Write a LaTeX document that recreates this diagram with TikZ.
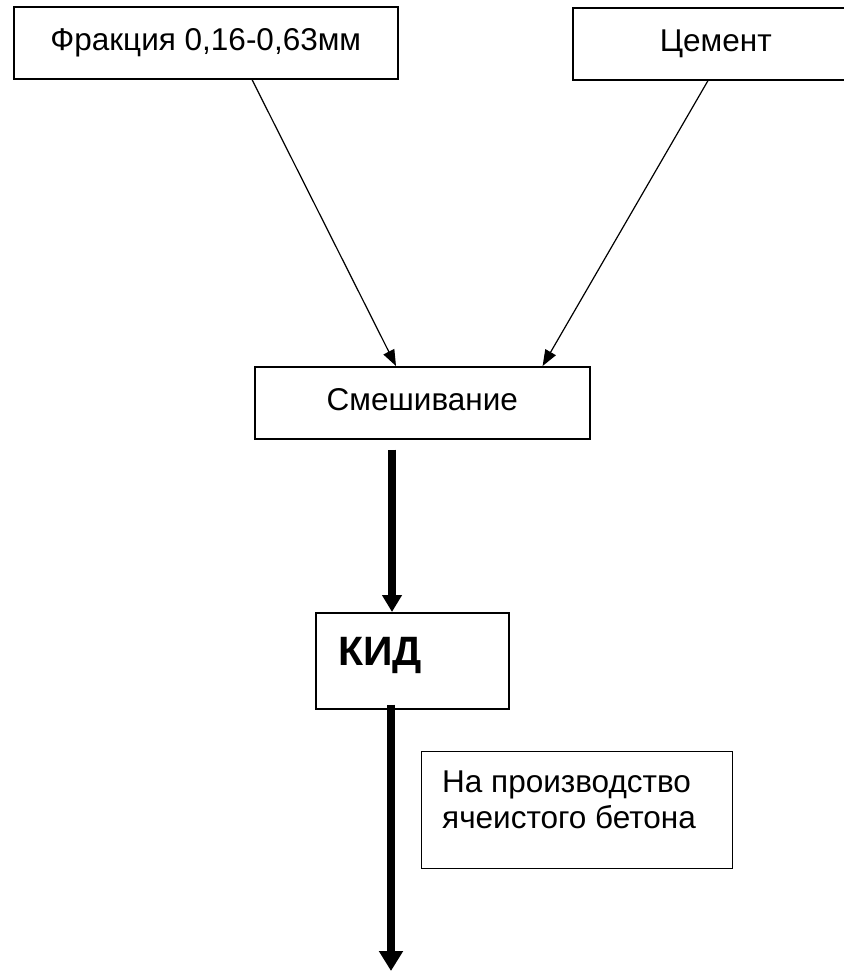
\documentclass[tikz,border=0pt]{standalone}
\usepackage{fontspec}
\setmainfont{Liberation Sans}
\usetikzlibrary{arrows.meta}
\begin{document}
\begin{tikzpicture}[x=1pt,y=-1pt,
  box/.style={draw, line width=1.6pt, anchor=north west, inner sep=0pt,
    text height=23pt, text depth=7pt, font=\fontsize{31.5pt}{36pt}\selectfont},
  txt/.style={anchor=base west, inner sep=0pt, align=left, font=\fontsize{31.5pt}{36pt}\selectfont},
  thin/.style={line width=1.2pt, -{Triangle[length=16pt,width=12pt]}},
  thick/.style={line width=7.5pt}]
\useasboundingbox (0,0) rectangle (843,971);
\node[box, minimum width=384pt, minimum height=72pt] (frak) at (13,6) {Фракция 0,16-0,63мм};
\node[box, minimum width=286pt, minimum height=72pt] (cem) at (572,7) {Цемент};
\node[box, minimum width=335pt, minimum height=72pt] (mix) at (254,366) {Смешивание};
\node[box, minimum width=193pt, minimum height=96pt] (kid) at (315,612) {};
\node[anchor=base west, inner sep=0pt, font=\fontsize{41pt}{48pt}\selectfont\bfseries] (kidt) at (338,665) {КИД};
\node[box, line width=1.3pt, minimum width=311pt, minimum height=117pt] (prod) at (421,751) {};
\node[txt] (prodt) at (442,828) {На производство\\ячеистого бетона};
\coordinate (endp) at (391,971);
\draw[thin] ([xshift=239pt]frak.south west) -- ([xshift=142pt]mix.north west);
\draw[thin] ([xshift=136pt]cem.south west) -- ([xshift=-48pt]mix.north east);
\draw[thick, -{Triangle[length=17pt,width=19pt]}] ([xshift=138pt,yshift=-10pt]mix.south west) -- ([xshift=77pt]kid.north west);
\draw[thick, -{Triangle[length=20pt,width=23pt]}] ([xshift=76pt,yshift=5pt]kid.south west) -- (endp);
\end{tikzpicture}
\end{document}
